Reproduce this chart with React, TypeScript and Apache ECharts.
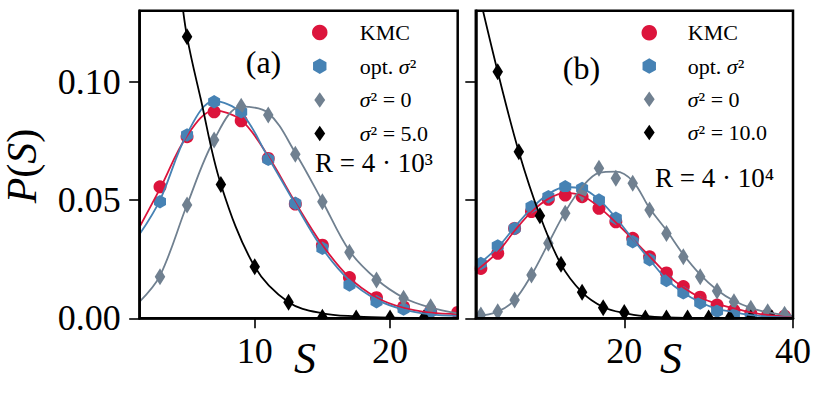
import React, { useEffect, useRef } from "react";
import * as echarts from "echarts";

const FONT = '"Liberation Serif", "DejaVu Serif", serif';

// ---------- Panel (a), R = 4·10^3 ----------
const aMarkS = [3, 5, 7, 9, 11, 13, 15, 17, 19, 21, 23, 25];
const aKmc = [0.0556, 0.0768, 0.0873, 0.0835, 0.0676, 0.0483, 0.0309, 0.0172, 0.0087, 0.0048, 0.003, 0.0025];
const aOpt = [0.0493, 0.0775, 0.0915, 0.0873, 0.0672, 0.0486, 0.0296, 0.0141, 0.007, 0.0039, 0.0028];
const aZero = [0.0176, 0.0479, 0.0754, 0.0897, 0.0859, 0.0694, 0.0493, 0.0279, 0.0162, 0.0085, 0.0049];
const aBlackS = [5, 7.5, 10, 12.5, 15, 17.5, 20, 22.5];
const aBlack = [0.119, 0.0566, 0.0218, 0.0068, 0.0004, 0.0001, 0.0001, 0.0001];

const aCurveS = [1.5, 3, 5, 7, 9, 11, 13, 15, 17, 19, 21, 23, 25];
const aKmcCurve = [0.0387, 0.0548, 0.0772, 0.0878, 0.0838, 0.0685, 0.049, 0.031, 0.0172, 0.0088, 0.0044, 0.0024, 0.0018];
const aOptCurve = [0.0356, 0.05, 0.078, 0.0918, 0.0868, 0.068, 0.0483, 0.0295, 0.016, 0.0079, 0.0037, 0.0017, 0.001];
const aZeroCurve = [0.007, 0.018, 0.048, 0.0755, 0.0895, 0.0868, 0.07, 0.0495, 0.0285, 0.0165, 0.0087, 0.0045, 0.0021];
const aBlackCurveS = [4.5, 5, 6, 7.5, 10, 12.5, 15, 17.5, 20, 25];
const aBlackCurve = [0.14, 0.119, 0.093, 0.0566, 0.0218, 0.0068, 0.0021, 0.0008, 0.0003, 0.0001];

// ---------- Panel (b), R = 4·10^4 ----------
const bMarkS = [3, 5, 7, 9, 11, 13, 15, 17, 19, 21, 23, 25, 27, 29, 31, 33, 35, 37, 39];
const bKmc = [0.0211, 0.0275, 0.038, 0.0451, 0.0503, 0.0521, 0.0514, 0.0465, 0.0408, 0.0338, 0.026, 0.0192, 0.0134, 0.0089, 0.0056, 0.0033, 0.0021, 0.0014, 0.0009];
const bOpt = [0.0232, 0.0306, 0.038, 0.0472, 0.0514, 0.0556, 0.0549, 0.05, 0.0423, 0.0324, 0.0248, 0.016, 0.0108, 0.0065, 0.003, 0.0014, 0.0007, 0.0003, 0.0003];
const bZero = [0.0014, 0.0028, 0.0077, 0.0183, 0.0317, 0.0444, 0.0528, 0.0634, 0.0592, 0.0571, 0.0458, 0.0359, 0.026, 0.0176, 0.0115, 0.007, 0.0042, 0.0028, 0.0017];
const bBlackS = [5, 7.5, 10, 12.5, 15, 17.5, 20, 22.5, 25, 27.5, 30, 32.5, 35, 37.5];
const bBlack = [0.1042, 0.0704, 0.0434, 0.0228, 0.011, 0.0045, 0.0025, 0.0001, 0.0001, 0.0001, 0.0001, 0.0001, 0.0001, 0.0001];

const bCurveS = [2.4, 5, 7, 9, 11, 13, 15, 17, 19, 21, 23, 25, 27, 29, 31, 33, 35, 37, 40];
const bKmcCurve = [0.02, 0.028, 0.037, 0.045, 0.0505, 0.053, 0.0518, 0.047, 0.0405, 0.0335, 0.0262, 0.0188, 0.013, 0.0088, 0.0061, 0.0042, 0.0025, 0.0014, 0.0006];
const bOptCurve = [0.0218, 0.03, 0.0385, 0.0465, 0.0525, 0.0555, 0.0548, 0.0502, 0.0425, 0.0335, 0.0248, 0.0165, 0.0108, 0.0068, 0.004, 0.0026, 0.0013, 0.0007, 0.0002];
const bZeroCurve = [0.0008, 0.0028, 0.0077, 0.0183, 0.0317, 0.045, 0.0555, 0.0615, 0.062, 0.058, 0.0465, 0.0372, 0.027, 0.0185, 0.012, 0.0074, 0.0044, 0.0025, 0.001];
const bBlackCurveS = [2.4, 5, 7.5, 10, 12.5, 15, 17.5, 20, 22.5, 25, 30, 40];
const bBlackCurve = [0.143, 0.1042, 0.0704, 0.0434, 0.0228, 0.011, 0.0048, 0.0022, 0.0009, 0.0004, 0.0001, 0.0];

// ---------- axes ----------
const xTicksA = [10, 20];
const xTicksB = [20, 40];
const yTicks = [0, 0.05, 0.1];

const legendNamesA = ["KMC", "opt. σ²", "σ² = 0", "σ² = 5.0"];
const legendNamesB = ["KMC", "opt. σ²", "σ² = 0", "σ² = 10.0"];

const RED = "#DC143C";
const BLUE = "#4682B4";
const GRAY = "#708090";
const BLACK = "#000000";

const HEX = "path://M0,-1L0.866,-0.5L0.866,0.5L0,1L-0.866,0.5L-0.866,-0.5Z";
const DIAM = "path://M0,-1L0.62,0L0,1L-0.62,0Z";
const DIAM_WIDE = "path://M0,-1L0.7,0L0,1L-0.7,0Z";

const zip = (xs: number[], ys: number[]) => ys.map((y, i) => [xs[i], y]);

function scatter(name: string, idx: number, xs: number[], ys: number[], color: string, symbol: string, size: any) {
  return {
    type: "scatter",
    name,
    xAxisIndex: idx,
    yAxisIndex: idx,
    data: zip(xs, ys),
    symbol,
    symbolSize: size,
    itemStyle: { color, opacity: 1 },
    z: 2,
    silent: true,
  };
}
function curve(name: string, idx: number, xs: number[], ys: number[], color: string) {
  return {
    type: "line",
    name,
    xAxisIndex: idx,
    yAxisIndex: idx,
    data: zip(xs, ys),
    smooth: 0.35,
    showSymbol: false,
    symbol: "none",
    clip: true,
    lineStyle: { color, width: 1.8 },
    z: 3,
    silent: true,
  };
}

const G = [
  { left: 139.7, top: 10.8, width: 318, height: 307.5 },
  { left: 475.8, top: 10.8, width: 317.2, height: 307.5 },
];

function masks() {
  const out: any[] = [];
  G.forEach((g) => {
    const r = g.left + g.width;
    const b = g.top + g.height;
    const s = { fill: "#fff" };
    out.push({ type: "rect", z: 50, shape: { x: g.left - 14, y: 0, width: g.width + 28, height: g.top - 1.3 }, style: s });
    out.push({ type: "rect", z: 50, shape: { x: g.left - 14, y: b + 1.3, width: g.width + 28, height: 12 }, style: s });
    out.push({ type: "rect", z: 50, shape: { x: g.left - 13, y: 0, width: 11.7, height: b + 14 }, style: s });
    out.push({ type: "rect", z: 50, shape: { x: r + 1.3, y: 0, width: 12, height: b + 14 }, style: s });
  });
  return out;
}

function txt(text: string, x: number, y: number, size: number, opts: any = {}) {
  return {
    type: "text",
    z: 100,
    x,
    y,
    rotation: opts.rotation || 0,
    style: {
      text,
      fontFamily: FONT,
      fontSize: size,
      fontStyle: opts.italic ? "italic" : "normal",
      fill: "#000",
      align: opts.align || "center",
      verticalAlign: "middle",
      rich: {
        i: { fontFamily: FONT, fontSize: size, fontStyle: "italic", fill: "#000" },
      },
    },
  };
}

const legendFormatter = (name: string) => name.replace(/σ/g, "{i|σ}");

function legend(names: string[], left: number, top: number, itemWidth: number, gap: number) {
  const data = names.map((n, i) => (i >= 2 ? { name: n, icon: DIAM_WIDE } : { name: n }));
  return {
    data,
    left,
    top,
    orient: "vertical",
    align: "left",
    itemWidth,
    itemHeight: 15.5,
    itemGap: gap,
    padding: 0,
    selectedMode: false,
    formatter: legendFormatter,
    textStyle: {
      fontFamily: FONT,
      fontSize: 22,
      color: "#000",
      lineHeight: 15,
      rich: { i: { fontFamily: FONT, fontSize: 22, fontStyle: "italic", color: "#000", lineHeight: 15 } },
    },
  };
}

function xAxis(idx: number, min: number, max: number, ticks: number[]) {
  return {
    type: "value",
    gridIndex: idx,
    min,
    max,
    z: 100,
    axisLine: { show: true, onZero: false, lineStyle: { color: "#000", width: 2.5 } },
    axisTick: { show: true, customValues: ticks, length: 10, lineStyle: { color: "#000", width: 1.6 } },
    axisLabel: { show: true, customValues: ticks, fontFamily: FONT, fontSize: 36, color: "#000", margin: 15 },
    splitLine: { show: false },
  };
}
function yAxis(idx: number, showLabels: boolean) {
  return {
    type: "value",
    gridIndex: idx,
    min: 0,
    max: 0.13,
    z: 100,
    axisLine: { show: true, onZero: false, lineStyle: { color: "#000", width: 2.5 } },
    axisTick: { show: true, customValues: yTicks, length: 10.5, lineStyle: { color: "#000", width: 1.6 } },
    axisLabel: {
      show: showLabels,
      customValues: yTicks,
      formatter: (v: number) => v.toFixed(2),
      fontFamily: FONT,
      fontSize: 36,
      color: "#000",
      margin: 19,
    },
    splitLine: { show: false },
  };
}

export default function App() {
  const ref = useRef<HTMLDivElement>(null);
  useEffect(() => {
    if (!ref.current) return;
    const chart = echarts.init(ref.current, null, { renderer: "svg" });
    const option: any = {
      animation: false,
      backgroundColor: "#fff",
      grid: G.map((g) => ({ ...g, show: true, borderColor: "#000", borderWidth: 2.5, z: 100, backgroundColor: "transparent" })),
      xAxis: [xAxis(0, 1.5, 25, xTicksA), xAxis(1, 2.4, 40, xTicksB)],
      yAxis: [yAxis(0, true), yAxis(1, false)],
      legend: [legend(legendNamesA, 312, 21.5, 70, 11.7), legend(legendNamesB, 641.5, 21.8, 67, 11.2)],
      series: [
        scatter("KMC", 0, aMarkS, aKmc, RED, "circle", 13),
        scatter("opt. σ²", 0, aMarkS, aOpt, BLUE, HEX, [12, 13.5]),
        scatter("σ² = 0", 0, aMarkS, aZero, GRAY, DIAM, [10.5, 17]),
        scatter("σ² = 5.0", 0, aBlackS, aBlack, BLACK, DIAM, [10.5, 17]),
        curve("KMC fit (a)", 0, aCurveS, aKmcCurve, RED),
        curve("opt fit (a)", 0, aCurveS, aOptCurve, BLUE),
        curve("zero fit (a)", 0, aCurveS, aZeroCurve, GRAY),
        curve("5.0 fit (a)", 0, aBlackCurveS, aBlackCurve, BLACK),
        scatter("KMC", 1, bMarkS, bKmc, RED, "circle", 13),
        scatter("opt. σ²", 1, bMarkS, bOpt, BLUE, HEX, [12, 13.5]),
        scatter("σ² = 0", 1, bMarkS, bZero, GRAY, DIAM, [10.5, 17]),
        scatter("σ² = 10.0", 1, bBlackS, bBlack, BLACK, DIAM, [10.5, 17]),
        curve("KMC fit (b)", 1, bCurveS, bKmcCurve, RED),
        curve("opt fit (b)", 1, bCurveS, bOptCurve, BLUE),
        curve("zero fit (b)", 1, bCurveS, bZeroCurve, GRAY),
        curve("10.0 fit (b)", 1, bBlackCurveS, bBlackCurve, BLACK),
      ],
      graphic: [
        ...masks(),
        txt("(a)", 263.5, 62, 32),
        txt("(b)", 581.5, 67.5, 32),
        txt("R = 4 · 10³", 315, 163, 27, { align: "left" }),
        txt("R = 4 · 10⁴", 655, 178, 27, { align: "left" }),
        txt("{i|P}({i|S})", 22, 166, 42, { rotation: Math.PI / 2 }),
        txt("S", 305, 358, 44, { italic: true }),
        txt("S", 671, 358, 44, { italic: true }),
      ],
    };
    chart.setOption(option);
    return () => chart.dispose();
  }, []);
  return (
    <div
      ref={ref}
      style={{ position: "fixed", left: 0, top: 0, width: 822, height: 399, background: "#fff" }}
    />
  );
}
